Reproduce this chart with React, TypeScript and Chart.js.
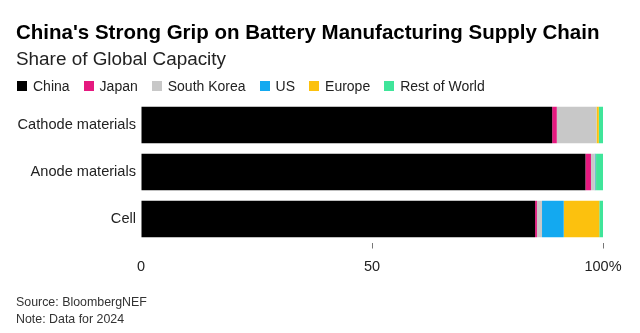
import React, { useEffect, useRef } from "react";
import { Chart, registerables } from "chart.js";

Chart.register(...registerables);

const categories = ["Cathode materials", "Anode materials", "Cell"];
const seriesNames = ["China", "Japan", "South Korea", "US", "Europe", "Rest of World"];
const seriesColors = ["#000000", "#e5197f", "#c8c8c8", "#13a9f0", "#fcc10e", "#3fe59a"];
const china = [89.0, 96.2, 85.3];
const japan = [1.0, 1.2, 0.4];
const southKorea = [8.6, 0.8, 1.1];
const us = [0.0, 0.2, 4.7];
const europe = [0.5, 0.1, 7.7];
const restOfWorld = [0.9, 1.5, 0.8];
const seriesValues = [china, japan, southKorea, us, europe, restOfWorld];
const xTicks = [0, 50, 100];

const FONT = "'Liberation Sans', Arial, Helvetica, sans-serif";

export default function App() {
  const ref = useRef<HTMLCanvasElement | null>(null);

  useEffect(() => {
    document.body.style.margin = "0";
    const canvas = ref.current;
    if (!canvas) return;
    const chart = new Chart(canvas, {
      type: "bar",
      data: {
        labels: categories,
        datasets: seriesNames.map((name, i) => ({
          label: name,
          data: seriesValues[i],
          backgroundColor: seriesColors[i],
          borderWidth: 0,
          categoryPercentage: 0.78,
          barPercentage: 1,
        })),
      },
      options: {
        indexAxis: "y",
        responsive: false,
        animation: false,
        layout: { padding: { left: 0, right: 37, top: 101.5, bottom: 50.5 } },
        plugins: {
          legend: { display: false },
          title: { display: false },
          tooltip: { enabled: false },
        },
        scales: {
          x: {
            stacked: true,
            min: 0,
            max: 100,
            afterFit: (scale: any) => {
              scale.height = 40;
            },
            afterBuildTicks: (scale: any) => {
              scale.ticks = xTicks.map((v) => ({ value: v }));
            },
            border: { display: false },
            grid: {
              drawOnChartArea: false,
              drawTicks: true,
              tickLength: 6,
              tickWidth: 1,
              tickColor: (ctx: any) => (ctx.tick && ctx.tick.value === 0 ? "rgba(0,0,0,0)" : "#777"),
            },
            ticks: {
              padding: 10,
              color: "#222",
              font: { family: FONT, size: 14.5 },
              maxRotation: 0,
              callback: (v: any) => (Number(v) === 100 ? "100%" : String(v)),
            },
          },
          y: {
            stacked: true,
            afterFit: (scale: any) => {
              scale.width = 141;
            },
            border: { display: false },
            grid: { display: false, drawTicks: false },
            ticks: {
              padding: 5,
              color: "#222",
              font: { family: FONT, size: 14.6 },
            },
          },
        },
      },
    });
    return () => chart.destroy();
  }, []);

  return (
    <div style={{ position: "relative", width: 640, height: 333, background: "#fff", overflow: "hidden", fontFamily: FONT }}>
      <canvas ref={ref} width={640} height={333} style={{ position: "absolute", left: 0, top: 0, width: 640, height: 333 }} />
      <div style={{ position: "absolute", left: 16, top: 20, fontSize: 20.5, fontWeight: "bold", color: "#000", whiteSpace: "nowrap", lineHeight: "24px" }}>
        China's Strong Grip on Battery Manufacturing Supply Chain
      </div>
      <div style={{ position: "absolute", left: 16, top: 48, fontSize: 18.9, color: "#222", whiteSpace: "nowrap", lineHeight: "22px" }}>
        Share of Global Capacity
      </div>
      <div style={{ position: "absolute", left: 17, top: 77, display: "flex", alignItems: "center", fontSize: 14, color: "#222", whiteSpace: "nowrap", lineHeight: "18px" }}>
        {seriesNames.map((name, i) => (
          <div key={name} style={{ display: "flex", alignItems: "center", marginRight: 14 }}>
            <span style={{ display: "inline-block", width: 10, height: 10, background: seriesColors[i], marginRight: 6 }} />
            <span>{name}</span>
          </div>
        ))}
      </div>
      <div style={{ position: "absolute", left: 16, top: 294, fontSize: 12.4, color: "#333", lineHeight: "17px", whiteSpace: "nowrap" }}>
        <div>Source: BloombergNEF</div>
        <div>Note: Data for 2024</div>
      </div>
    </div>
  );
}
